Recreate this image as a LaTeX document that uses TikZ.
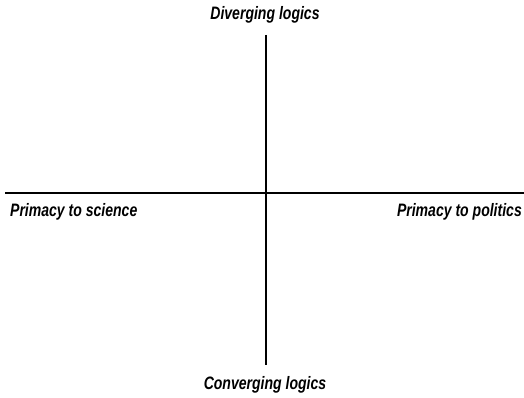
\documentclass[tikz,border=0pt]{standalone}
\usepackage{fontspec}
\setmainfont{Liberation Sans}
\begin{document}
\begin{tikzpicture}[x=1pt,y=1pt,
  axis/.style={line width=1.8pt},
  lbl/.style={font=\fontsize{18}{20}\selectfont\bfseries\itshape, inner sep=0pt, xscale=0.78}]
\useasboundingbox (0,0) rectangle (524,397);
\coordinate (top) at (266,397-35);
\coordinate (bot) at (266,397-365);
\coordinate (lft) at (5,397-193);
\coordinate (rgt) at (524,397-193);
\draw[axis] (top) -- (bot);
\draw[axis] (lft) -- (rgt);
\node[lbl] (div) at (265,397-15) {Diverging logics};
\node[lbl] (conv) at (265,397-385) {Converging logics};
\node[lbl, anchor=west] (sci) at (10,397-212) {Primacy to science};
\node[lbl, anchor=east] (pol) at (522,397-212) {Primacy to politics};
\end{tikzpicture}
\end{document}
